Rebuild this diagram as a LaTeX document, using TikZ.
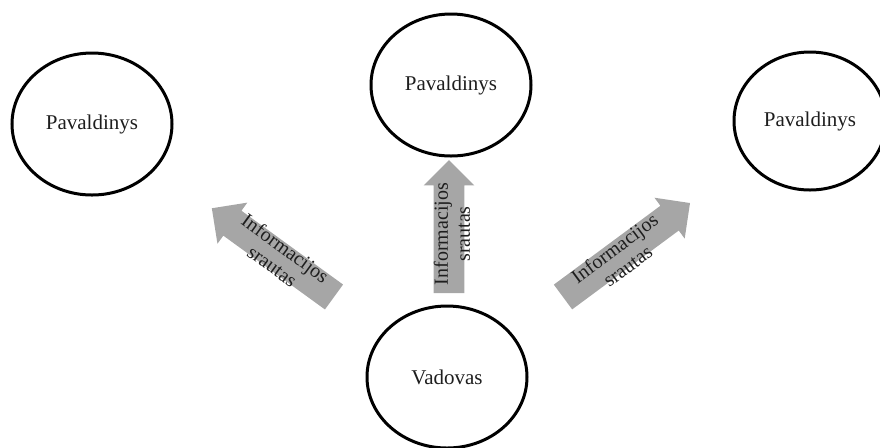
\documentclass[tikz,border=0pt]{standalone}
\usepackage{fontspec}
\setmainfont{Liberation Serif}
\usetikzlibrary{shapes.geometric, shapes.arrows}
\definecolor{flowgray}{RGB}{166,166,166}
\definecolor{textdark}{RGB}{30,30,30}

\begin{document}
\begin{tikzpicture}[x=0.5pt, y=-0.5pt,
  person/.style={draw, ellipse, line width=1.5pt, minimum width=80pt, minimum height=71pt, font=\fontsize{10.5}{12}\selectfont, text=textdark},
  flow/.style={single arrow, fill=flowgray, draw=none, inner sep=7.5pt, outer sep=0pt, single arrow head extend=5pt, single arrow tip angle=90, anchor=tail},
  flowlabel/.style={align=center, inner sep=0pt, font=\fontsize{10}{11}\selectfont, text=textdark}
]
  \clip (0,0) rectangle (880,447);
  \node[person] (sub1) at (92,124) {Pavaldinys};
  \node[person] (sub2) at (451,85) {Pavaldinys};
  \node[person, minimum width=76pt, minimum height=69pt] (sub3) at (810,121) {Pavaldinys};
  \node[person] (boss) at (447,377) {Vadovas};

  \node[flow, minimum height=75.5pt, rotate=144] (flowL) at (334,297) {};
  \node[flowlabel, rotate=-36] (labelL) at (279,257) {Informacijos\\srautas};
  \node[flow, minimum height=66.5pt, rotate=90] (flowM) at (449,293) {};
  \node[flowlabel, rotate=90] (labelM) at (452,234) {Informacijos\\srautas};
  \node[flow, minimum height=79pt, rotate=36.5] (flowR) at (563,297) {};
  \node[flowlabel, rotate=36.5] (labelR) at (621,257) {Informacijos\\srautas};
\end{tikzpicture}
\end{document}
